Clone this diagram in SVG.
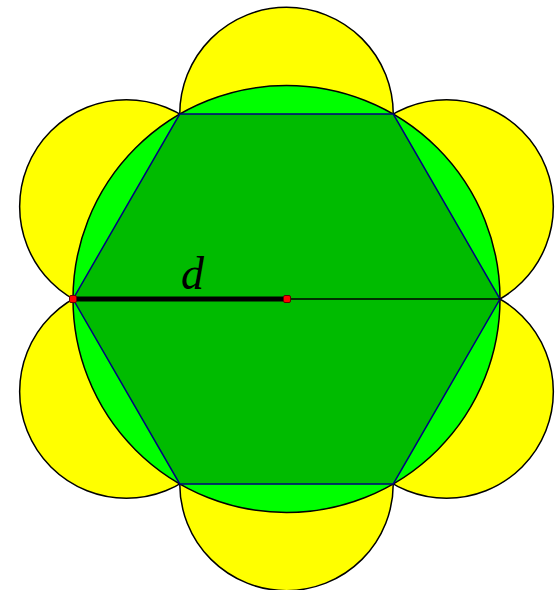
<svg xmlns="http://www.w3.org/2000/svg" width="555" height="590" viewBox="0 0 555 590">
<style>
.y{fill:#ffff00;stroke:#000;stroke-width:1.5}
.pt{fill:#ff0000;stroke:#600;stroke-width:1}
</style>
<rect width="555" height="590" fill="#fff"/>
<g id="semicircles">
<circle class="y" cx="286.5" cy="114.1" r="106.75"/>
<circle class="y" cx="446.6" cy="206.55" r="106.75"/>
<circle class="y" cx="446.6" cy="391.45" r="106.75"/>
<circle class="y" cx="286.5" cy="483.9" r="106.75"/>
<circle class="y" cx="126.4" cy="391.45" r="106.75"/>
<circle class="y" cx="126.4" cy="206.55" r="106.75"/>
</g>
<g id="circle">
<circle cx="286.5" cy="299" r="213.5" fill="#00ff00" stroke="#000" stroke-width="1.5"/>
</g>
<g id="hexagon">
<polygon points="73,299 179.75,114.1 393.25,114.1 500,299 393.25,483.9 179.75,483.9" fill="#00bb00" stroke="#000080" stroke-width="1.5"/>
</g>
<g id="connectors">
<line x1="73" y1="299" x2="500" y2="299" stroke="#000" stroke-width="1.5"/>
<line x1="73" y1="299" x2="287" y2="299" stroke="#000" stroke-width="5"/>
</g>
<g id="points">
<rect class="pt" x="69.5" y="295.5" width="7" height="7" rx="1.5"/>
<rect class="pt" x="283.5" y="295.5" width="7" height="7" rx="1.5"/>
</g>
<text x="181" y="289" font-family="Liberation Serif, serif" font-style="italic" font-size="46" fill="#000">d</text>
</svg>
